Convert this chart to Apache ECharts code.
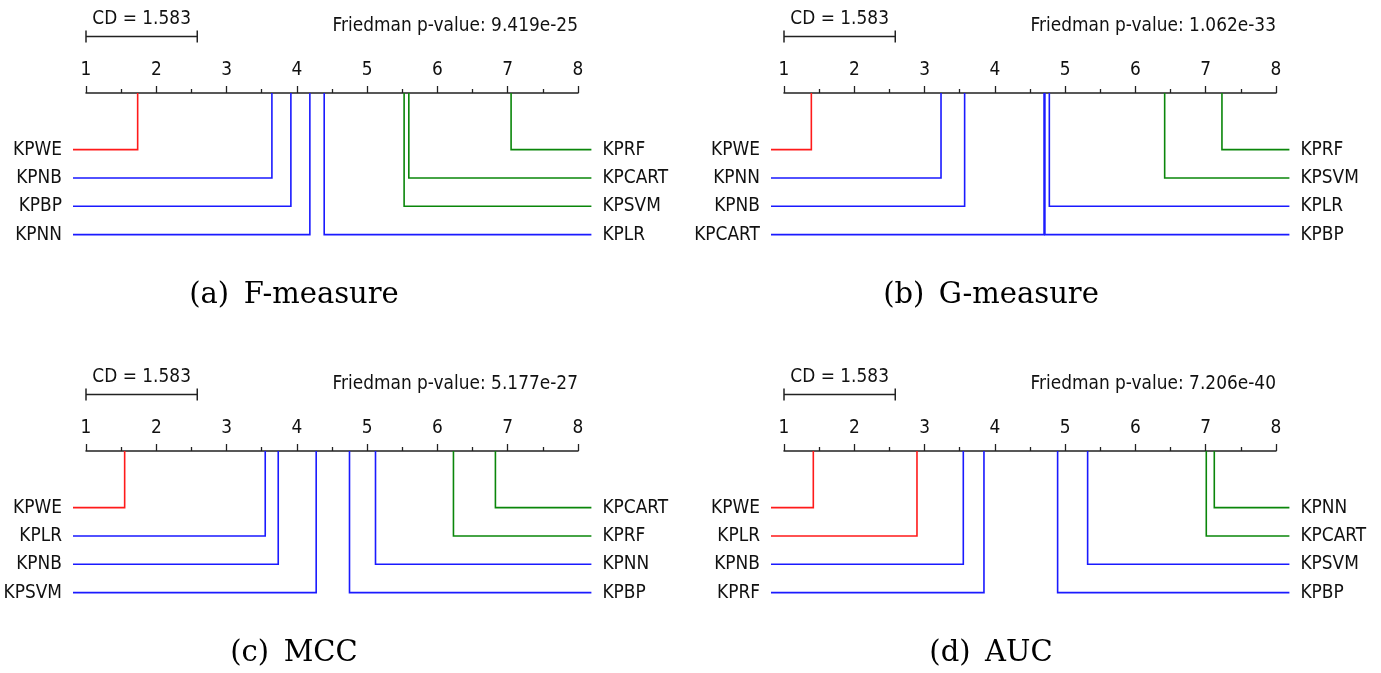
<!DOCTYPE html>
<html>
<head>
<meta charset="utf-8">
<script src="https://cdn.jsdelivr.net/npm/echarts@6/dist/echarts.min.js"></script>
<style>
  html, body { margin: 0; padding: 0; background: #fff; }
  #chart { width: 1381px; height: 673px; }
</style>
</head>
<body>
<div id="chart"></div>
<script>
// ---------------- DATA ----------------
const rankTicks = [1, 2, 3, 4, 5, 6, 7, 8];
const cdValue = 1.583;

const methodsA = ['KPWE', 'KPNB', 'KPBP', 'KPNN', 'KPLR', 'KPSVM', 'KPCART', 'KPRF'];
const ranksA   = [1.735, 3.645, 3.915, 4.185, 4.389, 5.526, 5.593, 7.048];
const groupsA  = ['red', 'blue', 'blue', 'blue', 'blue', 'green', 'green', 'green'];

const methodsB = ['KPWE', 'KPNN', 'KPNB', 'KPCART', 'KPBP', 'KPLR', 'KPSVM', 'KPRF'];
const ranksB   = [1.389, 3.234, 3.570, 4.700, 4.712, 4.775, 6.416, 7.231];
const groupsB  = ['red', 'blue', 'blue', 'blue', 'blue', 'blue', 'green', 'green'];

const methodsC = ['KPWE', 'KPLR', 'KPNB', 'KPSVM', 'KPBP', 'KPNN', 'KPRF', 'KPCART'];
const ranksC   = [1.550, 3.550, 3.735, 4.275, 4.749, 5.119, 6.228, 6.825];
const groupsC  = ['red', 'blue', 'blue', 'blue', 'blue', 'blue', 'green', 'green'];

const methodsD = ['KPWE', 'KPLR', 'KPNB', 'KPRF', 'KPBP', 'KPSVM', 'KPCART', 'KPNN'];
const ranksD   = [1.417, 2.892, 3.551, 3.845, 4.893, 5.320, 7.008, 7.122];
const groupsD  = ['red', 'red', 'blue', 'blue', 'blue', 'blue', 'green', 'green'];

const pValues  = ['9.419e-25', '1.062e-33', '5.177e-27', '7.206e-40'];
const captions = ['(a)\u2002F-measure', '(b)\u2002G-measure', '(c)\u2002MCC', '(d)\u2002AUC'];

// ---------------- LAYOUT / STYLE ----------------
const colorMap = { red: '#ff1a1a', blue: '#1a1aff', green: '#0a860a' };
const panels = [
  { m: methodsA, r: ranksA, g: groupsA, left: 86,  top: 93,  capX: 294, capY: 295 },
  { m: methodsB, r: ranksB, g: groupsB, left: 784, top: 93,  capX: 991, capY: 295 },
  { m: methodsC, r: ranksC, g: groupsC, left: 86,  top: 451, capX: 294, capY: 653 },
  { m: methodsD, r: ranksD, g: groupsD, left: 784, top: 451, capX: 991, capY: 653 }
];
const AXIS_W = 492;
const ROW_H = 28.33;
const Y_MIN = -2, Y_MAX = 4;
const FONT = "'DejaVu Sans', sans-serif";
const FS = 17;
const SY = 1.15;   // vertical stretch of the sans texts
const INK = '#111';

function label(x, y, text, align) {
  return { type: 'text', x: x, y: y, scaleY: SY,
           style: { text: text, fill: INK, font: FS + 'px ' + FONT, align: align, verticalAlign: 'middle' } };
}

const grids = [], xAxes = [], yAxes = [], series = [], graphics = [];

panels.forEach((p, i) => {
  grids.push({ left: p.left, top: p.top, width: AXIS_W, height: (Y_MAX - Y_MIN) * ROW_H });
  xAxes.push({
    type: 'value', gridIndex: i, min: rankTicks[0], max: rankTicks[rankTicks.length - 1], interval: 1,
    position: 'top',
    axisLine: { show: true, onZero: false, lineStyle: { color: '#222', width: 1.5 } },
    axisTick: { show: true, length: 7, lineStyle: { color: '#222', width: 1.3 } },
    minorTick: { show: true, splitNumber: 2, length: 4, lineStyle: { color: '#222', width: 1.3 } },
    splitLine: { show: false }, minorSplitLine: { show: false },
    axisLabel: { show: false }
  });
  yAxes.push({ type: 'value', gridIndex: i, min: Y_MIN, max: Y_MAX, inverse: true, show: false });

  // rows: lower half of ranks on the left (top→bottom ascending), upper half on the right (top→bottom descending)
  const idx = p.r.map((v, k) => k).sort((a, b) => p.r[a] - p.r[b]);
  const n = idx.length, half = n / 2;
  const data = [];
  idx.forEach((k, pos) => {
    const left = pos < half;
    const row = left ? pos : (n - 1 - pos);
    data.push({ value: [p.r[k], row, left ? 0 : 1], name: p.m[k], color: colorMap[p.g[k]] });
  });

  series.push({
    type: 'custom', xAxisIndex: i, yAxisIndex: i, silent: true, clip: false,
    data: data.map(d => ({ value: d.value, name: d.name })),
    renderItem: function (params, api) {
      const rank = api.value(0), row = api.value(1), side = api.value(2);
      const pt = api.coord([rank, row]);
      const axisY = api.coord([rank, Y_MIN])[1];
      const d = data[params.dataIndex];
      const endX = side === 0 ? api.coord([1, row])[0] - 13 : api.coord([8, row])[0] + 13.4;
      const txtX = side === 0 ? endX - 11 : endX + 11;
      return {
        type: 'group',
        children: [
          { type: 'polyline', shape: { points: [[pt[0], axisY], [pt[0], pt[1]], [endX, pt[1]]] },
            style: { stroke: d.color, lineWidth: 1.6, fill: null } },
          label(txtX, pt[1], d.name, side === 0 ? 'right' : 'left')
        ]
      };
    }
  });

  // tick labels, CD bar and Friedman text
  series.push({
    type: 'custom', xAxisIndex: i, yAxisIndex: i, silent: true, clip: false,
    data: [[1, cdValue]],
    renderItem: function (params, api) {
      const x0 = api.coord([1, Y_MIN]);
      const x1 = api.coord([1 + api.value(1), Y_MIN]);
      const xEnd = api.coord([8, Y_MIN]);
      const axisY = x0[1];
      const by = axisY - 56.5;
      const ls = { stroke: '#222', lineWidth: 1.5 };
      const children = [
        { type: 'line', shape: { x1: x0[0], y1: by, x2: x1[0], y2: by }, style: ls },
        { type: 'line', shape: { x1: x0[0], y1: by - 6, x2: x0[0], y2: by + 6 }, style: ls },
        { type: 'line', shape: { x1: x1[0], y1: by - 6, x2: x1[0], y2: by + 6 }, style: ls },
        label((x0[0] + x1[0]) / 2, axisY - 74.5, 'CD = ' + cdValue.toFixed(3), 'center'),
        label(xEnd[0], axisY - 67, 'Friedman p-value: ' + pValues[i], 'right')
      ];
      rankTicks.forEach(t => {
        children.push(label(api.coord([t, Y_MIN])[0], axisY - 23.5, String(t), 'center'));
      });
      return { type: 'group', children: children };
    }
  });

  graphics.push({
    type: 'text', x: p.capX, y: p.capY,
    style: { text: captions[i], fill: '#000', font: "29px 'DejaVu Serif', serif", align: 'center', verticalAlign: 'middle' }
  });
});

const chart = echarts.init(document.getElementById('chart'), null, { renderer: 'canvas' });
chart.setOption({
  animation: false,
  backgroundColor: '#fff',
  grid: grids, xAxis: xAxes, yAxis: yAxes, series: series, graphic: graphics
});
</script>
</body>
</html>
